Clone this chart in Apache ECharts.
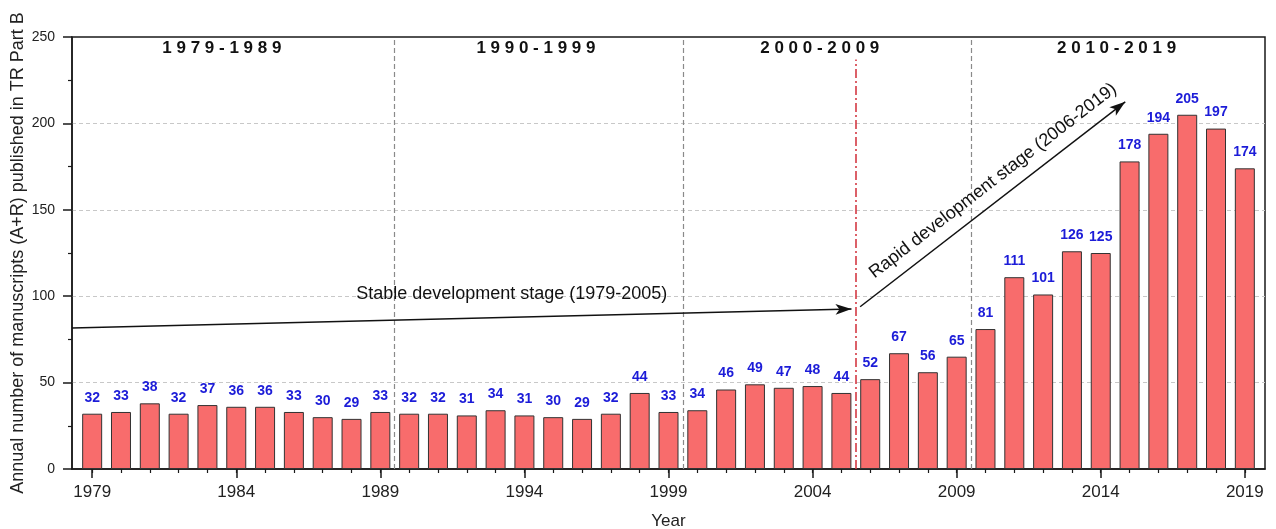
<!DOCTYPE html>
<html>
<head>
<meta charset="utf-8">
<script src="https://cdn.jsdelivr.net/npm/echarts@6/dist/echarts.min.js"></script>
<style>
html,body{margin:0;padding:0;background:#fff;}
#chart{width:1276px;height:529px;}
</style>
</head>
<body>
<div id="chart"></div>
<script>
const years = [1979,1980,1981,1982,1983,1984,1985,1986,1987,1988,1989,
  1990,1991,1992,1993,1994,1995,1996,1997,1998,1999,
  2000,2001,2002,2003,2004,2005,2006,2007,2008,2009,
  2010,2011,2012,2013,2014,2015,2016,2017,2018,2019];
const counts = [32,33,38,32,37,36,36,33,30,29,33,
  32,32,31,34,31,30,29,32,44,33,
  34,46,49,47,48,44,52,67,56,65,
  81,111,101,126,125,178,194,205,197,174];
const xTickLabels = [1979,1984,1989,1994,1999,2004,2009,2014,2019];
const yTicks = [0,50,100,150,200,250];
const periodLabels = ['1979-1989','1990-1999','2000-2009','2010-2019'];
const periodCenters = [1983.5,1994.4,2004.25,2014.55];
const periodDividers = [1989.5,1999.5,2009.5];
const stageSplit = 2005.5;
const stableArrow = [[1978.3,81.6],[2005.35,92.6]];
const rapidArrow = [[2005.65,93.9],[2014.85,212.5]];
const stableText = 'Stable development stage (1979-2005)';
const rapidText = 'Rapid development stage (2006-2019)';

const FONT = 'Liberation Sans, Arial, sans-serif';
const spaced = s => s.split('').join(' ');

const chart = echarts.init(document.getElementById('chart'), null, {renderer:'canvas'});
const xMin = 1978.3, xMax = 2019.7;

const option = {
  animation:false,
  textStyle:{fontFamily:FONT},
  grid:{left:72, right:11, top:37, bottom:60, outerBoundsMode:'none', containLabel:false,
    show:true, borderColor:'#1a1a1a', borderWidth:1.5, backgroundColor:'transparent'},
  xAxis:[{
    type:'value', min:xMin, max:xMax,
    name:'Year', nameLocation:'middle', nameGap:44,
    nameTextStyle:{fontSize:17, color:'#222', fontFamily:FONT},
    axisLine:{show:true, lineStyle:{color:'#1a1a1a', width:1.5}},
    axisTick:{show:true, customValues:xTickLabels, length:9, inside:false, lineStyle:{color:'#1a1a1a', width:1.5}},
    axisLabel:{customValues:xTickLabels, fontSize:17, color:'#222', margin:15, fontFamily:FONT, formatter:v=>String(v)},
    splitLine:{show:false}
  },{
    type:'value', min:xMin, max:xMax, position:'bottom',
    axisLine:{show:false},
    axisTick:{show:true, customValues:years, length:4, lineStyle:{color:'#1a1a1a', width:1.2}},
    axisLabel:{show:false},
    splitLine:{show:false}
  }],
  yAxis:{
    type:'value', min:0, max:250, interval:50,
    name:'Annual number of manuscripts (A+R) published in TR Part B',
    nameLocation:'middle', nameGap:45, nameRotate:90, nameMoveOverlap:false,
    nameTextStyle:{fontSize:18, color:'#222', fontFamily:FONT},
    axisLine:{show:true, lineStyle:{color:'#1a1a1a', width:1.5}},
    axisTick:{show:true, length:9, lineStyle:{color:'#1a1a1a', width:1.5}},
    minorTick:{show:true, splitNumber:2, length:4, lineStyle:{color:'#1a1a1a', width:1.2}},
    axisLabel:{fontSize:14, color:'#222', margin:17, fontFamily:FONT},
    splitLine:{show:true, showMinLine:false, showMaxLine:false, lineStyle:{color:'#c8c8c8', type:[4,3], width:1}}
  },
  series:[{
    type:'bar', xAxisIndex:0,
    data: years.map((y,i)=>[y,counts[i]]),
    barWidth:20,
    itemStyle:{color:'#f86c6c', borderColor:'#333', borderWidth:1},
    label:{show:true, position:'top', distance:9, color:'#1c1cd8', fontWeight:'bold', fontSize:14, fontFamily:FONT,
      formatter:p=>String(p.value[1])},
    markLine:{
      silent:true, symbol:['none','none'], animation:false,
      label:{show:false},
      data:[
        ...periodDividers.map(x=>[{coord:[x,0], lineStyle:{color:'#8a8a8a', type:[5,3], width:1.2}},{coord:[x,250]}]),
        [{coord:[stageSplit,0], lineStyle:{color:'#d43a44', type:[9,3,2,3], width:1.6}},{coord:[stageSplit,237]}],
        [{coord:stableArrow[0], symbol:'none', lineStyle:{color:'#111', type:'solid', width:1.5}},{coord:stableArrow[1], symbol:'arrow', symbolSize:[8,16]}],
        [{coord:rapidArrow[0], symbol:'none', lineStyle:{color:'#111', type:'solid', width:1.5}},{coord:rapidArrow[1], symbol:'arrow', symbolSize:[8,16]}]
      ]
    },
    z:3
  },{
    type:'scatter', xAxisIndex:0, symbolSize:0, silent:true,
    itemStyle:{opacity:1},
    data:[
      ...periodLabels.map((t,i)=>({value:[periodCenters[i],243.5], label:{show:true, position:'inside', formatter:spaced(t), fontWeight:'bold', fontSize:17, color:'#111', fontFamily:FONT}})),
      {value:[1993.56,101.5], label:{show:true, position:'inside', formatter:stableText, fontSize:18, color:'#111', fontFamily:FONT}},
      {value:[2010.26,166.7], label:{show:true, position:'inside', formatter:rapidText, fontSize:18, color:'#111', rotate:37.7, fontFamily:FONT}}
    ],
    z:5
  }]
};
chart.setOption(option);
</script>
</body>
</html>
